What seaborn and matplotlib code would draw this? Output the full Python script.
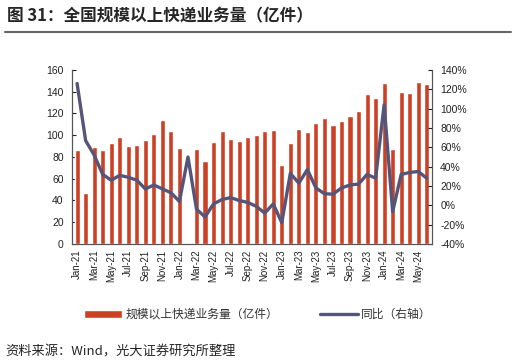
import numpy as np
import pandas as pd
import matplotlib
matplotlib.use("Agg")
import matplotlib.pyplot as plt
from matplotlib.ticker import FuncFormatter, FixedLocator
import seaborn as sns

# Datos
meses = pd.date_range("2021-01-01", periods=42, freq="MS").strftime("%b-%y").tolist()
volumen = [86, 47, 89, 86, 93, 98, 90, 91, 96, 101, 114, 104,
           88, np.nan, 87, 76, 94, 104, 97, 95, 98, 100, 104, 105,
           73, 93, 106, 103, 111, 116, 109, 113, 118, 122, 138, 134,
           148, 87, 140, 139, 149, 147]
interanual = [126, 67, 52, 32, 26, 31, 29, 26, 17, 21, 17, 13,
              4, 50, -4, -12, 1.5, 6, 8, 5, 3, -1, -8, 1.5,
              -18, 33, 23, 37, 18, 12, 11.5, 18, 21, 22, 32, 28,
              104, -6.5, 32, 34, 35, 28]

nombre_barra = "规模以上快递业务量（亿件）"
nombre_linea = "同比（右轴）"
titulo = "图 31：全国规模以上快递业务量（亿件）"
fuente = "资料来源：Wind，光大证券研究所整理"

color_barra = "#CC4125"
color_linea = "#55557A"

sns.set_style("white")
plt.rcParams["font.family"] = ["Liberation Sans", "Noto Sans CJK SC", "DejaVu Sans"]

df = pd.DataFrame({"mes": meses, "volumen": volumen, "interanual": interanual})
df["pos"] = np.arange(len(df))

fig = plt.figure(figsize=(5.16, 3.64), dpi=100)
ax = fig.add_axes([0.1395, 0.3297, 0.6975, 0.478])

# Barras (eje izquierdo)
sns.barplot(data=df, x="mes", y="volumen", order=meses, color=color_barra,
            width=0.6, saturation=1, ax=ax, label=nombre_barra)
if ax.get_legend() is not None:
    ax.get_legend().remove()

ax.set_ylim(0, 160)
ax.set_yticks(range(0, 161, 20))
ax.set_xlim(-0.6, len(meses) - 0.4)
ax.set_xlabel("")
ax.set_ylabel("")
ax.set_xticks(range(0, len(meses), 2))
ax.set_xticklabels(meses[::2], rotation=90, fontsize=7, color="#222222")
ax.tick_params(axis="x", length=0, pad=4)
ax.xaxis.set_minor_locator(FixedLocator([i - 0.5 for i in range(1, len(meses), 2)]))
ax.tick_params(axis="x", which="minor", direction="in", length=3, color="#555555")
ax.tick_params(axis="y", direction="in", length=3, labelsize=7.5, colors="#222222", pad=6)

# Linea (eje derecho)
ax2 = ax.twinx()
sns.lineplot(data=df, x="pos", y="interanual", color=color_linea, linewidth=2.4,
             ax=ax2, label=nombre_linea, legend=False)
ax2.set_ylim(-40, 140)
ax2.set_yticks(range(-40, 141, 20))
ax2.yaxis.set_major_formatter(FuncFormatter(lambda v, p: f"{v:.0f}%"))
ax2.set_ylabel("")
ax2.tick_params(axis="y", direction="in", length=3, labelsize=7.5, colors="#222222", pad=6)

for a in (ax, ax2):
    a.spines["top"].set_visible(False)
    for s in ("left", "right", "bottom"):
        a.spines[s].set_color("#555555")
        a.spines[s].set_linewidth(0.8)

# Leyenda comun
h1, l1 = ax.get_legend_handles_labels()
h2, l2 = ax2.get_legend_handles_labels()
fig.legend(h1 + h2, l1 + l2, loc="center", bbox_to_anchor=(0.5, 0.135), ncol=2,
           frameon=False, fontsize=8.5, handlelength=3.2, handletextpad=0.3,
           columnspacing=3.5, labelcolor="#333333")

# Titulo y fuente
fig.text(0.014, 0.955, titulo, fontsize=12, fontweight="bold", va="center",
         family=["Noto Sans CJK SC", "DejaVu Sans"])
fig.add_artist(plt.Line2D([0.01, 0.99], [0.913, 0.913], color="#666666", linewidth=1.5))
fig.text(0.01, 0.033, fuente, fontsize=9.5, va="center",
         family=["Noto Sans CJK SC", "DejaVu Sans"])

fig.savefig("out.png", dpi=100)
